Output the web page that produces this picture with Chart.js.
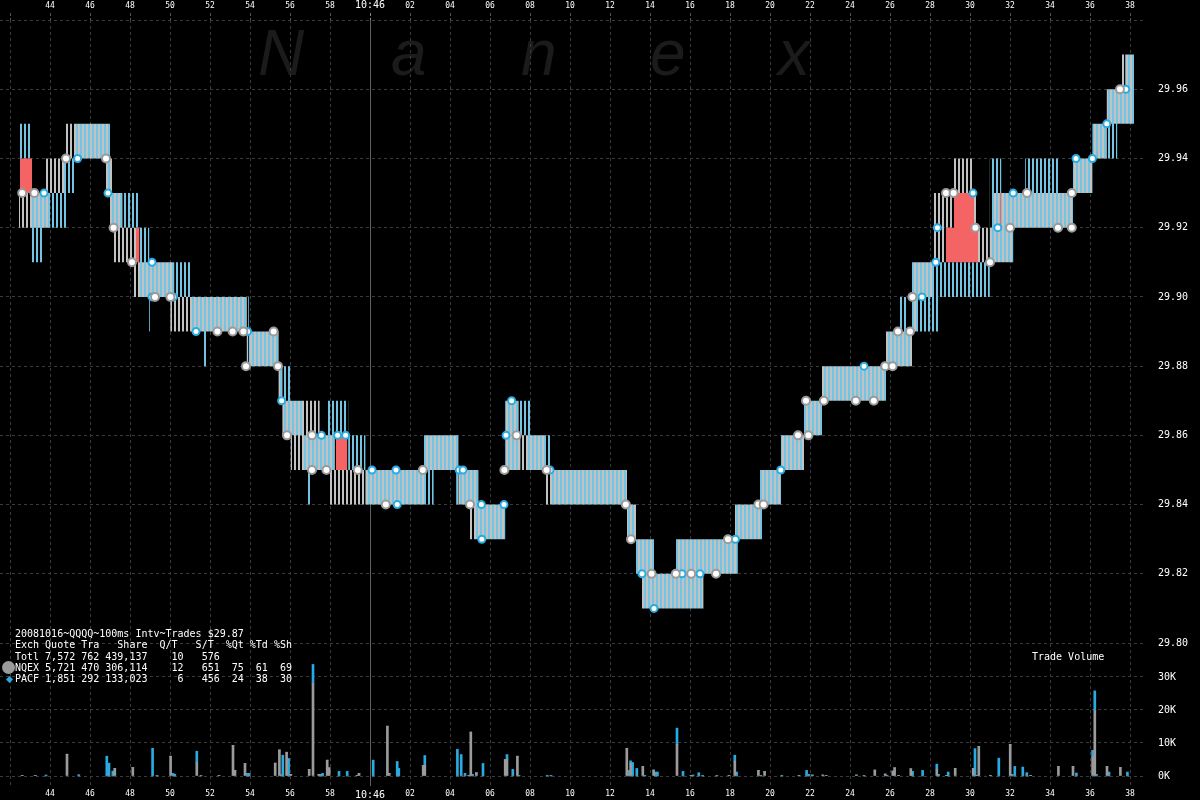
<!DOCTYPE html>
<html><head><meta charset="utf-8">
<script src="https://cdn.jsdelivr.net/npm/chart.js@4.4.1/dist/chart.umd.min.js"></script>
<style>
html,body{margin:0;padding:0;background:#000;width:1200px;height:800px;overflow:hidden;}
#wrap{position:relative;width:1200px;height:800px;}
.wm{position:absolute;top:21px;font:italic 64px/1 "Liberation Sans",Arial,sans-serif;color:#1b1b1b;}
canvas{position:absolute;left:0;top:0;}
.txt{position:absolute;font:10px/11.3px "DejaVu Sans Mono",monospace;color:#fff;white-space:pre;}
</style></head>
<body><div id="wrap">
<span class="wm" style="left:258px">N</span><span class="wm" style="left:391px">a</span><span class="wm" style="left:521px">n</span><span class="wm" style="left:650px">e</span><span class="wm" style="left:778px">x</span>
<canvas id="c" width="1200" height="800"></canvas>
<div class="txt" style="left:15px;top:628px">20081016~QQQQ~100ms Intv~Trades $29.87
Exch Quote Tra   Share  Q/T   S/T  %Qt %Td %Sh
Totl 7,572 762 439,137    10   576
NQEX 5,721 470 306,114    12   651  75  61  69
PACF 1,851 292 133,023     6   456  24  38  30</div>
<div style="position:absolute;left:2px;top:661px;width:13px;height:13px;border-radius:50%;background:#9a9a9a"></div>
<div style="position:absolute;left:6.5px;top:676.5px;width:5px;height:5px;transform:rotate(45deg);background:#29abe2"></div>
<div class="txt" style="left:1032px;top:651px">Trade Volume</div>
</div>
<script>
// time axis: seconds relative to 10:46:00
const xTickVals = [-18,-16,-14,-12,-10,-8,-6,-4,-2,0,2,4,6,8,10,12,14,16,18,20,22,24,26,28,30,32,34,36,38];
const xTickLabels = ['','44','46','48','50','52','54','56','58','10:46','02','04','06','08','10','12','14','16','18','20','22','24','26','28','30','32','34','36','38'];
const priceTickVals = [29.80,29.82,29.84,29.86,29.88,29.90,29.92,29.94,29.96,29.98];
const priceTickLabels = ['29.80','29.82','29.84','29.86','29.88','29.90','29.92','29.94','29.96',''];
const volTickVals = [0,10000,20000,30000];
const volTickLabels = ['0K','10K','20K','30K'];

// NQEX quote: state i lasts from nqexT[i] to nqexT[i+1]
const nqexT   = [-17.55,-16.3,-16.1,-15.2,-13.2,-13.0,-12.9,-12.38,-11.9,-11.7,-9.98,-9.79,-6.16,-4.57,-4.38,-3.96,-2.52,-2.1,-1.76,2.7,4.42,5.0,5.42,6.76,7.43,8.8,12.85,13.3,13.6,14.2,15.3,16.67,18.25,18.39,19.6,20.55,21.7,22.6,25.8,27.1,27.34,28.2,28.8,29.2,30.2,30.4,31.13,32.16,35.15,36.12,36.84,37.5,38.2];
const nqexBid = [29.92,29.92,29.93,29.94,29.93,29.92,29.91,29.91,29.90,29.90,29.89,29.89,29.88,29.87,29.86,29.85,29.85,29.84,29.84,29.85,29.84,29.83,29.83,29.85,29.85,29.84,29.83,29.82,29.81,29.81,29.81,29.82,29.82,29.83,29.84,29.85,29.86,29.87,29.88,29.89,29.90,29.91,29.92,29.93,29.92,29.91,29.91,29.92,29.93,29.94,29.95,29.95,null];
const nqexAsk = [29.93,29.94,29.94,29.95,29.95,29.94,29.93,29.92,29.92,29.91,29.91,29.90,29.89,29.88,29.87,29.87,29.86,29.86,29.85,29.86,29.85,29.85,29.84,29.87,29.86,29.85,29.84,29.83,29.83,29.82,29.83,29.83,29.84,29.84,29.85,29.86,29.87,29.88,29.89,29.91,29.91,29.93,29.93,29.94,29.93,29.92,29.93,29.93,29.94,29.95,29.96,29.97,null];

// PACF quote
const pacfT   = [-17.55,-16.9,-16.3,-15.3,-15.2,-14.77,-13.2,-13.0,-12.9,-11.52,-11.04,-10.9,-8.93,-8.36,-8.1,-6.06,-4.57,-4.38,-3.96,-3.38,-3.2,-3.0,-2.14,-1.76,-1.09,-0.23,2.7,3.18,4.31,4.42,5.23,5.42,6.76,7.52,7.9,8.0,9.0,12.85,13.3,13.6,14.2,15.3,16.67,18.25,18.39,19.45,19.6,20.55,21.7,22.6,25.8,26.44,26.82,27.08,28.5,30.99,31.56,32.16,32.76,34.4,35.15,36.12,36.84,37.36,37.76,38.2];
const pacfBid = [29.94,29.91,29.92,29.92,29.93,29.94,29.93,29.92,29.92,29.90,29.89,29.90,29.89,29.88,29.89,29.88,29.87,29.86,29.86,29.85,29.84,29.85,29.85,29.86,29.85,29.84,29.84,29.85,29.84,29.84,29.83,29.83,29.85,29.86,29.85,29.85,29.84,29.83,29.82,29.81,29.81,29.81,29.82,29.82,29.83,29.83,29.84,29.85,29.86,29.87,29.88,29.88,29.88,29.89,29.90,29.91,29.91,29.92,29.92,29.92,29.93,29.94,29.94,29.95,29.95,null];
const pacfAsk = [29.95,29.93,29.93,29.94,29.94,29.95,29.95,29.94,29.93,29.92,29.91,29.91,29.90,29.90,29.90,29.89,29.88,29.88,29.87,29.86,29.86,29.86,29.87,29.87,29.86,29.85,29.86,29.86,29.86,29.85,29.85,29.84,29.87,29.87,29.87,29.86,29.85,29.84,29.83,29.83,29.82,29.83,29.83,29.84,29.84,29.85,29.85,29.86,29.87,29.88,29.89,29.90,29.89,29.91,29.91,29.94,29.93,29.93,29.94,29.93,29.94,29.95,29.96,29.96,29.97,null];

// inverted (gap) zones between the two quotes
const redT  = [-17.5,-16.9,-11.7,-11.52,-1.7,-1.13,28.8,29.2,30.2,30.4,31.48,31.56];
const redLo = [29.93,null,29.91,null,29.85,null,29.91,29.91,29.91,null,29.92,null];
const redHi = [29.94,null,29.92,null,29.86,null,29.92,29.93,29.92,null,29.93,null];

// trades
const nqexTradeT  = [-17.39,-16.78,-15.2,-13.2,-12.82,-11.9,-10.75,-9.98,-7.63,-6.87,-6.33,-4.82,-6.2,-4.6,-4.15,-2.9,-2.9,-2.18,-0.61,0.79,2.64,5.0,6.72,7.33,8.83,12.79,13.05,14.08,15.29,16.06,17.3,17.9,19.42,19.68,21.4,21.92,21.8,22.69,24.29,25.19,25.76,26.13,26.4,27.0,27.12,28.8,29.18,30.27,31.0,32.0,32.85,34.4,35.09,35.09,37.5];
const nqexTradePx = [29.93,29.93,29.94,29.94,29.92,29.91,29.90,29.90,29.89,29.89,29.89,29.89,29.88,29.88,29.86,29.86,29.85,29.85,29.85,29.84,29.85,29.84,29.85,29.86,29.85,29.84,29.83,29.82,29.82,29.82,29.82,29.83,29.84,29.84,29.86,29.86,29.87,29.87,29.87,29.87,29.88,29.88,29.89,29.89,29.90,29.93,29.93,29.92,29.91,29.92,29.93,29.92,29.92,29.93,29.96];
const pacfTradeT  = [-16.3,-14.62,-13.1,-10.9,-10.9,-9.83,-8.7,-6.12,-4.42,-2.43,-1.62,-1.22,0.1,1.3,1.36,4.46,4.65,5.57,5.59,6.7,6.8,7.08,9.0,13.6,14.2,15.6,16.5,18.27,20.54,24.7,27.6,28.29,28.37,30.15,31.39,32.16,35.3,36.12,36.84,37.79];
const pacfTradePx = [29.93,29.94,29.93,29.91,29.90,29.90,29.89,29.89,29.87,29.86,29.86,29.86,29.85,29.85,29.84,29.85,29.85,29.84,29.83,29.84,29.86,29.87,29.85,29.82,29.81,29.82,29.82,29.83,29.85,29.88,29.90,29.91,29.92,29.93,29.92,29.93,29.94,29.94,29.95,29.96];

// trade volume (shares)
const volT    = [-17.39,-16.74,-16.2,-15.15,-14.56,-13.16,-13.05,-12.86,-12.76,-11.86,-10.87,-10.65,-9.97,-9.85,-9.76,-8.66,-8.45,-7.55,-6.85,-6.75,-6.25,-6.14,-6.04,-4.74,-4.53,-4.45,-4.36,-4.17,-4.07,-3.96,-3.04,-2.85,-2.56,-2.46,-2.37,-2.14,-2.04,-1.55,-1.14,-0.65,-0.55,0.16,0.87,0.96,1.36,1.44,2.66,2.74,4.37,4.56,4.75,4.94,5.04,5.13,5.32,5.65,6.76,6.85,7.14,7.37,7.45,8.86,9.05,
                 12.84,12.94,13.03,13.13,13.34,13.64,13.74,14.18,14.27,14.37,15.35,15.65,16.05,16.15,16.44,16.63,17.34,17.95,18.24,18.33,19.42,19.54,19.73,20.59,21.45,21.83,21.95,22.12,22.64,22.81,24.32,24.7,25.24,25.76,25.85,26.14,26.23,26.43,27.04,27.13,27.63,28.34,28.43,28.82,28.91,29.26,30.16,30.25,30.35,30.44,31.02,31.44,32.01,32.11,32.24,32.64,32.84,33.03,34.42,35.15,35.32,36.13,36.24,36.32,36.85,36.95,37.52,37.87];
const volNqex = [200,200,0,6600,0,0,0,0,2300,2600,0,0,6000,0,0,4000,0,200,9300,1700,3800,0,0,3900,7900,0,0,7200,0,500,2000,28000,500,0,0,4800,2500,0,0,200,800,0,15100,800,0,0,3200,3200,0,0,0,200,13300,0,1000,0,5000,5000,0,6000,0,0,0,
                 8400,0,3800,0,0,2900,0,1800,0,0,9600,0,200,0,0,0,0,200,4500,0,1700,0,1400,0,200,0,0,300,300,200,300,0,1800,600,0,1500,2500,200,2200,0,0,2000,0,200,0,2300,2300,0,200,9000,200,0,9600,0,0,0,0,200,2900,2900,0,5900,19800,0,2900,0,2600,0];
const volPacf = [0,0,300,0,400,6000,3900,1500,0,0,8400,200,0,800,500,3500,200,0,0,0,0,800,800,0,0,400,6300,0,5300,0,0,5800,0,500,800,0,0,1400,1400,0,0,4800,0,0,4400,2300,0,3000,8100,6500,800,0,0,500,0,3800,0,1500,2000,0,200,200,200,
                 0,1700,800,4100,2300,0,200,0,1200,1200,4900,1400,0,300,1000,200,200,0,1800,1200,0,200,0,200,0,1700,500,0,0,0,0,200,0,0,200,0,0,0,0,1400,1700,1600,500,0,1200,0,0,8300,0,0,0,5400,0,500,2900,2700,1000,0,0,0,900,1900,6000,500,0,1200,0,1200];

// ---------- build ----------
function bandPoints(T, V){
  const pts = [];
  for (let i = 0; i < T.length - 1; i++) {
    if (V[i] == null) { pts.push({x:T[i], y:null}); continue; }
    pts.push({x:T[i], y:V[i]}, {x:T[i+1], y:V[i]});
  }
  return pts;
}
const xyPoints = (X, Y) => X.map((x, i) => ({x, y:Y[i]}));

const mainCtx = document.getElementById('c').getContext('2d');
// vertical hatch: each exchange paints its own pair of pixel columns out of every four
function stripe(color, off){
  const c = document.createElement('canvas'); c.width = 4; c.height = 1;
  const g = c.getContext('2d'); g.fillStyle = color; g.fillRect(off, 0, 2, 1);
  return mainCtx.createPattern(c, 'repeat');
}
const nqexPat = stripe('#c2c2c2', 2);
const pacfPat = stripe('#72c4e2', 0);

const MONO = '"DejaVu Sans Mono", monospace';
const gridColor = '#3b3b3b';
const XMIN = -18.5, XMAX = 38.65;
const setTicks = vals => s => { s.ticks = vals.map(v => ({value:v})); };
const noPad = s => { s.paddingLeft = 0; s.paddingRight = 0; s.paddingTop = 0; s.paddingBottom = 0; };
const fitH = h => s => { s.height = h; noPad(s); };
const fitW = w => s => { s.width = w; noPad(s); };
const xFont = ctx => (ctx.tick && ctx.tick.value === 0) ? {family:MONO, size:10} : {family:MONO, size:8};

const band = (label, data, fill, bg, order) => ({type:'line', label, data, fill, backgroundColor:bg, borderColor:'rgba(0,0,0,0)', borderWidth:0, pointRadius:0, tension:0, spanGaps:false, xAxisID:'x', yAxisID:'y', order});

new Chart(mainCtx, {
  type: 'line',
  data: { datasets: [
    {type:'scatter', label:'NQEX trades', data:xyPoints(nqexTradeT, nqexTradePx), xAxisID:'x', yAxisID:'y', pointRadius:4, pointBackgroundColor:'#ffffff', pointBorderColor:'#9a9a9a', pointBorderWidth:2, order:0},
    {type:'scatter', label:'PACF trades', data:xyPoints(pacfTradeT, pacfTradePx), xAxisID:'x', yAxisID:'y', pointRadius:3.5, pointBackgroundColor:'#ffffff', pointBorderColor:'#29abe2', pointBorderWidth:2, order:0},
    band('gap hi', bandPoints(redT, redHi), '+1', '#f46464', 1),
    band('gap lo', bandPoints(redT, redLo), false, 'rgba(0,0,0,0)', 1),
    band('PACF ask', bandPoints(pacfT, pacfAsk), '+1', pacfPat, 2),
    band('PACF bid', bandPoints(pacfT, pacfBid), false, 'rgba(0,0,0,0)', 2),
    band('NQEX ask', bandPoints(nqexT, nqexAsk), '+1', nqexPat, 3),
    band('NQEX bid', bandPoints(nqexT, nqexBid), false, 'rgba(0,0,0,0)', 3),
    {type:'bar', label:'NQEX volume', data:xyPoints(volT, volNqex), xAxisID:'x', yAxisID:'yv', backgroundColor:'#9b9b9b', barThickness:2, borderWidth:0, stack:'v', order:4},
    {type:'bar', label:'PACF volume', data:xyPoints(volT, volPacf), xAxisID:'x', yAxisID:'yv', backgroundColor:'#29abe2', barThickness:2, borderWidth:0, stack:'v', order:4}
  ]},
  options: {
    responsive:false, animation:false, events:[],
    layout:{padding:0, autoPadding:false},
    plugins:{legend:{display:false}, tooltip:{enabled:false}},
    scales:{
      x:{type:'linear', position:'bottom', min:XMIN, max:XMAX, stacked:true, offset:false,
         afterBuildTicks:setTicks(xTickVals), afterFit:fitH(14),
         ticks:{callback:(v,i)=>xTickLabels[i], color:'#ffffff', font:xFont, padding:3, autoSkip:false, maxRotation:0},
         grid:{color:gridColor, drawTicks:false, offset:false}, border:{display:false, dash:[3,3]}},
      x2:{type:'linear', position:'top', min:XMIN, max:XMAX, offset:false,
         afterBuildTicks:setTicks(xTickVals), afterFit:fitH(20),
         ticks:{callback:(v,i)=>xTickLabels[i], color:'#ffffff', font:xFont, padding:2, autoSkip:false, maxRotation:0},
         grid:{drawOnChartArea:false, drawTicks:true, tickLength:7, offset:false, tickColor:ctx=>(ctx.tick && ctx.tick.value===0)?'#888':'#555', tickBorderDash:[3,2]},
         border:{display:false}},
      x3:{type:'linear', position:'bottom', min:XMIN, max:XMAX, offset:false,
         afterBuildTicks:s=>{s.ticks=[{value:0}];}, afterFit:fitH(0),
         ticks:{display:false}, grid:{color:'#5f5f5f', drawTicks:false, offset:false}, border:{display:false}},
      y:{type:'linear', position:'right', stack:'right', stackWeight:640, min:29.7951, max:29.98,
         afterBuildTicks:setTicks(priceTickVals), afterFit:fitW(57),
         ticks:{callback:(v,i)=>priceTickLabels[i], color:'#ffffff', font:{family:MONO, size:10}, padding:15},
         grid:{color:gridColor, drawTicks:false}, border:{display:false, dash:[3,3]}},
      yv:{type:'linear', position:'right', stack:'right', stackWeight:126, min:-3030, max:35150, stacked:true,
         afterBuildTicks:setTicks(volTickVals), afterFit:fitW(57),
         ticks:{callback:(v,i)=>volTickLabels[i], color:'#ffffff', font:{family:MONO, size:10}, padding:15},
         grid:{color:gridColor, drawTicks:false}, border:{display:false, dash:[3,3]}}
    }
  }
});
</script>
</body></html>
